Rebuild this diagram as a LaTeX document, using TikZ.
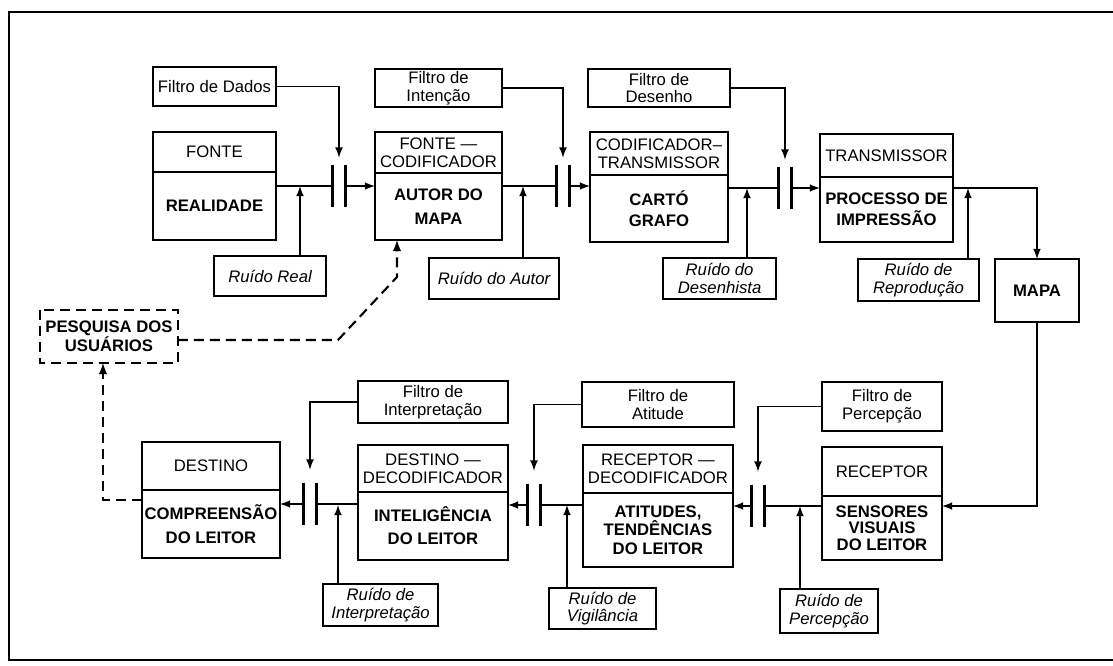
\documentclass[tikz,border=0pt]{standalone}
\usepackage{fontspec}
\setmainfont{Liberation Sans}
\usetikzlibrary{positioning}

\begin{document}
\begin{tikzpicture}[
    x=0.02cm, y=-0.02cm,
    head/.style={rectangle, draw, line width=1.2pt, outer sep=0pt, anchor=north west, align=center, inner sep=1pt, font=\fontsize{9.5}{10}\selectfont},
    body/.style={rectangle, draw, line width=1.2pt, outer sep=0pt, align=center, inner sep=1pt, font=\fontsize{9.5}{12}\selectfont\bfseries},
    filter/.style={rectangle, draw, line width=1.2pt, align=center, inner sep=1pt, font=\fontsize{9.5}{10}\selectfont},
    noise/.style={rectangle, draw, line width=1.2pt, anchor=north west, align=center, inner sep=1pt, font=\fontsize{9.5}{10}\selectfont\itshape},
    gate/.style={rectangle, minimum width=0.24cm, minimum height=0.84cm, inner sep=0pt},
    bar/.style={line width=1.6pt},
    signal/.style={-latex, line width=1pt},
    link/.style={line width=1pt},
    survey/.style={-latex, line width=1.2pt, dash pattern=on 0.2cm off 0.12cm}
  ]

    \useasboundingbox (0,0) rectangle (1113,666);
    \draw[line width=1.2pt] (1113,12) -- (9,12) -- (9,660) -- (1113,660);

    % Top row: source to transmitter
    \node[head, minimum width=2.46cm, minimum height=0.80cm] (fonteH) at (153,132) {FONTE};
    \node[body, minimum width=2.46cm, minimum height=1.36cm, below=0pt of fonteH] (fonteB) {REALIDADE};
    \node[filter, minimum width=2.46cm, minimum height=0.78cm, above=0.50cm of fonteH] (fDados) {Filtro de Dados};
    \node[noise, minimum width=2.24cm, minimum height=0.80cm] (rReal) at (213,255) {Ruído Real};

    \node[head, minimum width=2.54cm, minimum height=0.82cm] (fonteCodH) at (375,132) {FONTE ---\\CODIFICADOR};
    \node[body, minimum width=2.54cm, minimum height=1.34cm, below=0pt of fonteCodH, font=\fontsize{9.5}{14}\selectfont\bfseries] (fonteCodB) {AUTOR DO\\MAPA};
    \node[filter, minimum width=2.54cm, minimum height=0.76cm, above=0.48cm of fonteCodH] (fIntencao) {Filtro de\\Intenção};
    \node[noise, minimum width=2.60cm, minimum height=0.82cm] (rAutor) at (428,257) {Ruído do Autor};

    \node[head, minimum width=2.76cm, minimum height=0.86cm] (codTransH) at (590,132) {CODIFICADOR--\\TRANSMISSOR};
    \node[body, minimum width=2.76cm, minimum height=1.34cm, below=0pt of codTransH] (codTransB) {CARTÓ\\GRAFO};
    \node[filter, minimum width=2.84cm, minimum height=0.76cm, above=0.48cm of codTransH] (fDesenho) {Filtro de\\Desenho};
    \node[noise, minimum width=2.26cm, minimum height=0.82cm] (rDesenhista) at (662,257) {Ruído do\\Desenhista};

    \node[head, minimum width=2.66cm, minimum height=0.86cm] (transH) at (820,134) {TRANSMISSOR};
    \node[body, minimum width=2.66cm, minimum height=1.30cm, below=0pt of transH] (transB) {PROCESSO DE\\IMPRESSÃO};
    \node[noise, minimum width=2.42cm, minimum height=0.84cm] (rReproducao) at (857,258) {Ruído de\\Reprodução};

    \node[body, anchor=north west, minimum width=1.68cm, minimum height=1.26cm] (mapa) at (995,259) {MAPA};

    % Bottom row: receiver to destination
    \node[head, minimum width=2.40cm, minimum height=0.98cm] (receptorH) at (822,447) {RECEPTOR};
    \node[body, minimum width=2.40cm, minimum height=1.28cm, below=0pt of receptorH, font=\fontsize{9.5}{9.5}\selectfont\bfseries] (receptorB) {SENSORES\\VISUAIS\\DO LEITOR};
    \node[filter, minimum width=2.40cm, minimum height=0.98cm, above=0.30cm of receptorH] (fPercepcao) {Filtro de\\Percepção};
    \node[noise, minimum width=1.96cm, minimum height=0.88cm] (rPercepcao) at (779,588) {Ruído de\\Percepção};

    \node[head, minimum width=3.00cm, minimum height=0.96cm] (recDecH) at (583,445) {RECEPTOR ---\\DECODIFICADOR};
    \node[body, minimum width=3.00cm, minimum height=1.48cm, below=0pt of recDecH, font=\fontsize{9.5}{10.5}\selectfont\bfseries] (recDecB) {ATITUDES,\\TENDÊNCIAS\\DO LEITOR};
    \node[filter, minimum width=3.04cm, minimum height=0.90cm, above=0.34cm of recDecH] (fAtitude) {Filtro de\\Atitude};
    \node[noise, minimum width=2.14cm, minimum height=0.82cm] (rVigilancia) at (548,587) {Ruído de\\Vigilância};

    \node[head, minimum width=3.00cm, minimum height=0.94cm] (destDecH) at (358,445) {DESTINO ---\\DECODIFICADOR};
    \node[body, minimum width=3.00cm, minimum height=1.36cm, below=0pt of destDecH, font=\fontsize{9.5}{13}\selectfont\bfseries] (destDecB) {INTELIGÊNCIA\\DO LEITOR};
    \node[filter, minimum width=3.00cm, minimum height=0.84cm, above=0.42cm of destDecH] (fInterp) {Filtro de\\Interpretação};
    \node[noise, minimum width=2.30cm, minimum height=0.84cm] (rInterp) at (322,583) {Ruído de\\Interpretação};

    \node[head, minimum width=2.76cm, minimum height=0.96cm] (destinoH) at (142,442) {DESTINO};
    \node[body, minimum width=2.76cm, minimum height=1.36cm, below=0pt of destinoH, font=\fontsize{9.5}{14}\selectfont\bfseries] (destinoB) {COMPREENSÃO\\DO LEITOR};

    \node[body, anchor=north west, draw=none, minimum width=2.76cm, minimum height=1.06cm, font=\fontsize{9.5}{11}\selectfont\bfseries] (pesquisa) at (40,310) {PESQUISA DOS\\USUÁRIOS};
    \draw[line width=1.2pt, dash pattern=on 0.2cm off 0.12cm] (pesquisa.north west) rectangle (pesquisa.south east);

    % Filters (gates) and noise junctions
    \node[gate] (cap1) at (339,186) {};
    \node[gate] (cap2) at (563,186) {};
    \node[gate] (cap3) at (785,188) {};
    \node[gate] (cap4) at (758,506) {};
    \node[gate] (cap5) at (534,505) {};
    \node[gate] (cap6) at (310,504) {};
    \draw[bar] (cap1.north west) -- (cap1.south west) (cap1.north east) -- (cap1.south east);
    \draw[bar] (cap2.north west) -- (cap2.south west) (cap2.north east) -- (cap2.south east);
    \draw[bar] (cap3.north west) -- (cap3.south west) (cap3.north east) -- (cap3.south east);
    \draw[bar] (cap4.north west) -- (cap4.south west) (cap4.north east) -- (cap4.south east);
    \draw[bar] (cap5.north west) -- (cap5.south west) (cap5.north east) -- (cap5.south east);
    \draw[bar] (cap6.north west) -- (cap6.south west) (cap6.north east) -- (cap6.south east);

    \coordinate (j1) at (300,186);
    \coordinate (j2) at (523,186);
    \coordinate (j3) at (747,188);
    \coordinate (j4) at (968,188);
    \coordinate (j5) at (800,506);
    \coordinate (j6) at (567,505);
    \coordinate (j7) at (338,505);

    % Message flow
    \draw[link] (fonteB.east |- cap1) -- (cap1.west);
    \draw[signal] (cap1.east) -- (fonteCodB.west |- cap1);
    \draw[link] (fonteCodB.east |- cap2) -- (cap2.west);
    \draw[signal] (cap2.east) -- (codTransB.west |- cap2);
    \draw[link] (codTransB.east |- cap3) -- (cap3.west);
    \draw[signal] (cap3.east) -- (transB.west |- cap3);
    \draw[signal] (transB.east |- cap3) -| (mapa.north);
    \draw[signal] (mapa.south) |- (receptorB.east |- cap4);
    \draw[link] (receptorB.west |- cap4) -- (cap4.east);
    \draw[signal] (cap4.west) -- (recDecB.east |- cap4);
    \draw[link] (recDecB.west |- cap5) -- (cap5.east);
    \draw[signal] (cap5.west) -- (destDecB.east |- cap5);
    \draw[link] (destDecB.west |- cap6) -- (cap6.east);
    \draw[signal] (cap6.west) -- (destinoB.east |- cap6);

    % Filters into the gates
    \draw[signal] (fDados.east) -| ([yshift=0.14cm]cap1.north);
    \draw[signal] (fIntencao.east) -| ([yshift=0.14cm]cap2.north);
    \draw[signal] (fDesenho.east) -| ([yshift=0.14cm]cap3.north);
    \draw[signal] (fPercepcao.west) -| ([yshift=0.26cm]cap4.north);
    \draw[signal] (fAtitude.west) -| ([yshift=0.26cm]cap5.north);
    \draw[signal] (fInterp.west) -| ([yshift=0.26cm]cap6.north);

    % Noise
    \draw[signal] (rReal.north -| j1) -- (j1);
    \draw[signal] (rAutor.north -| j2) -- (j2);
    \draw[signal] (rDesenhista.north -| j3) -- (j3);
    \draw[signal] (rReproducao.north -| j4) -- (j4);
    \draw[signal] (rPercepcao.north -| j5) -- (j5);
    \draw[signal] (rVigilancia.north -| j6) -- (j6);
    \draw[signal] (rInterp.north -| j7) -- (j7);

    % User research loop
    \coordinate (s1) at (338,340);
    \coordinate (s2) at (397,277);
    \coordinate (s3) at (103,500);
    \draw[survey] (pesquisa.east |- s1) -- (s1) -- (s2) -- (fonteCodB.south -| s2);
    \draw[survey] (destinoB.west |- s3) -- (s3) -- (pesquisa.south -| s3);
  \end{tikzpicture}
\end{document}
